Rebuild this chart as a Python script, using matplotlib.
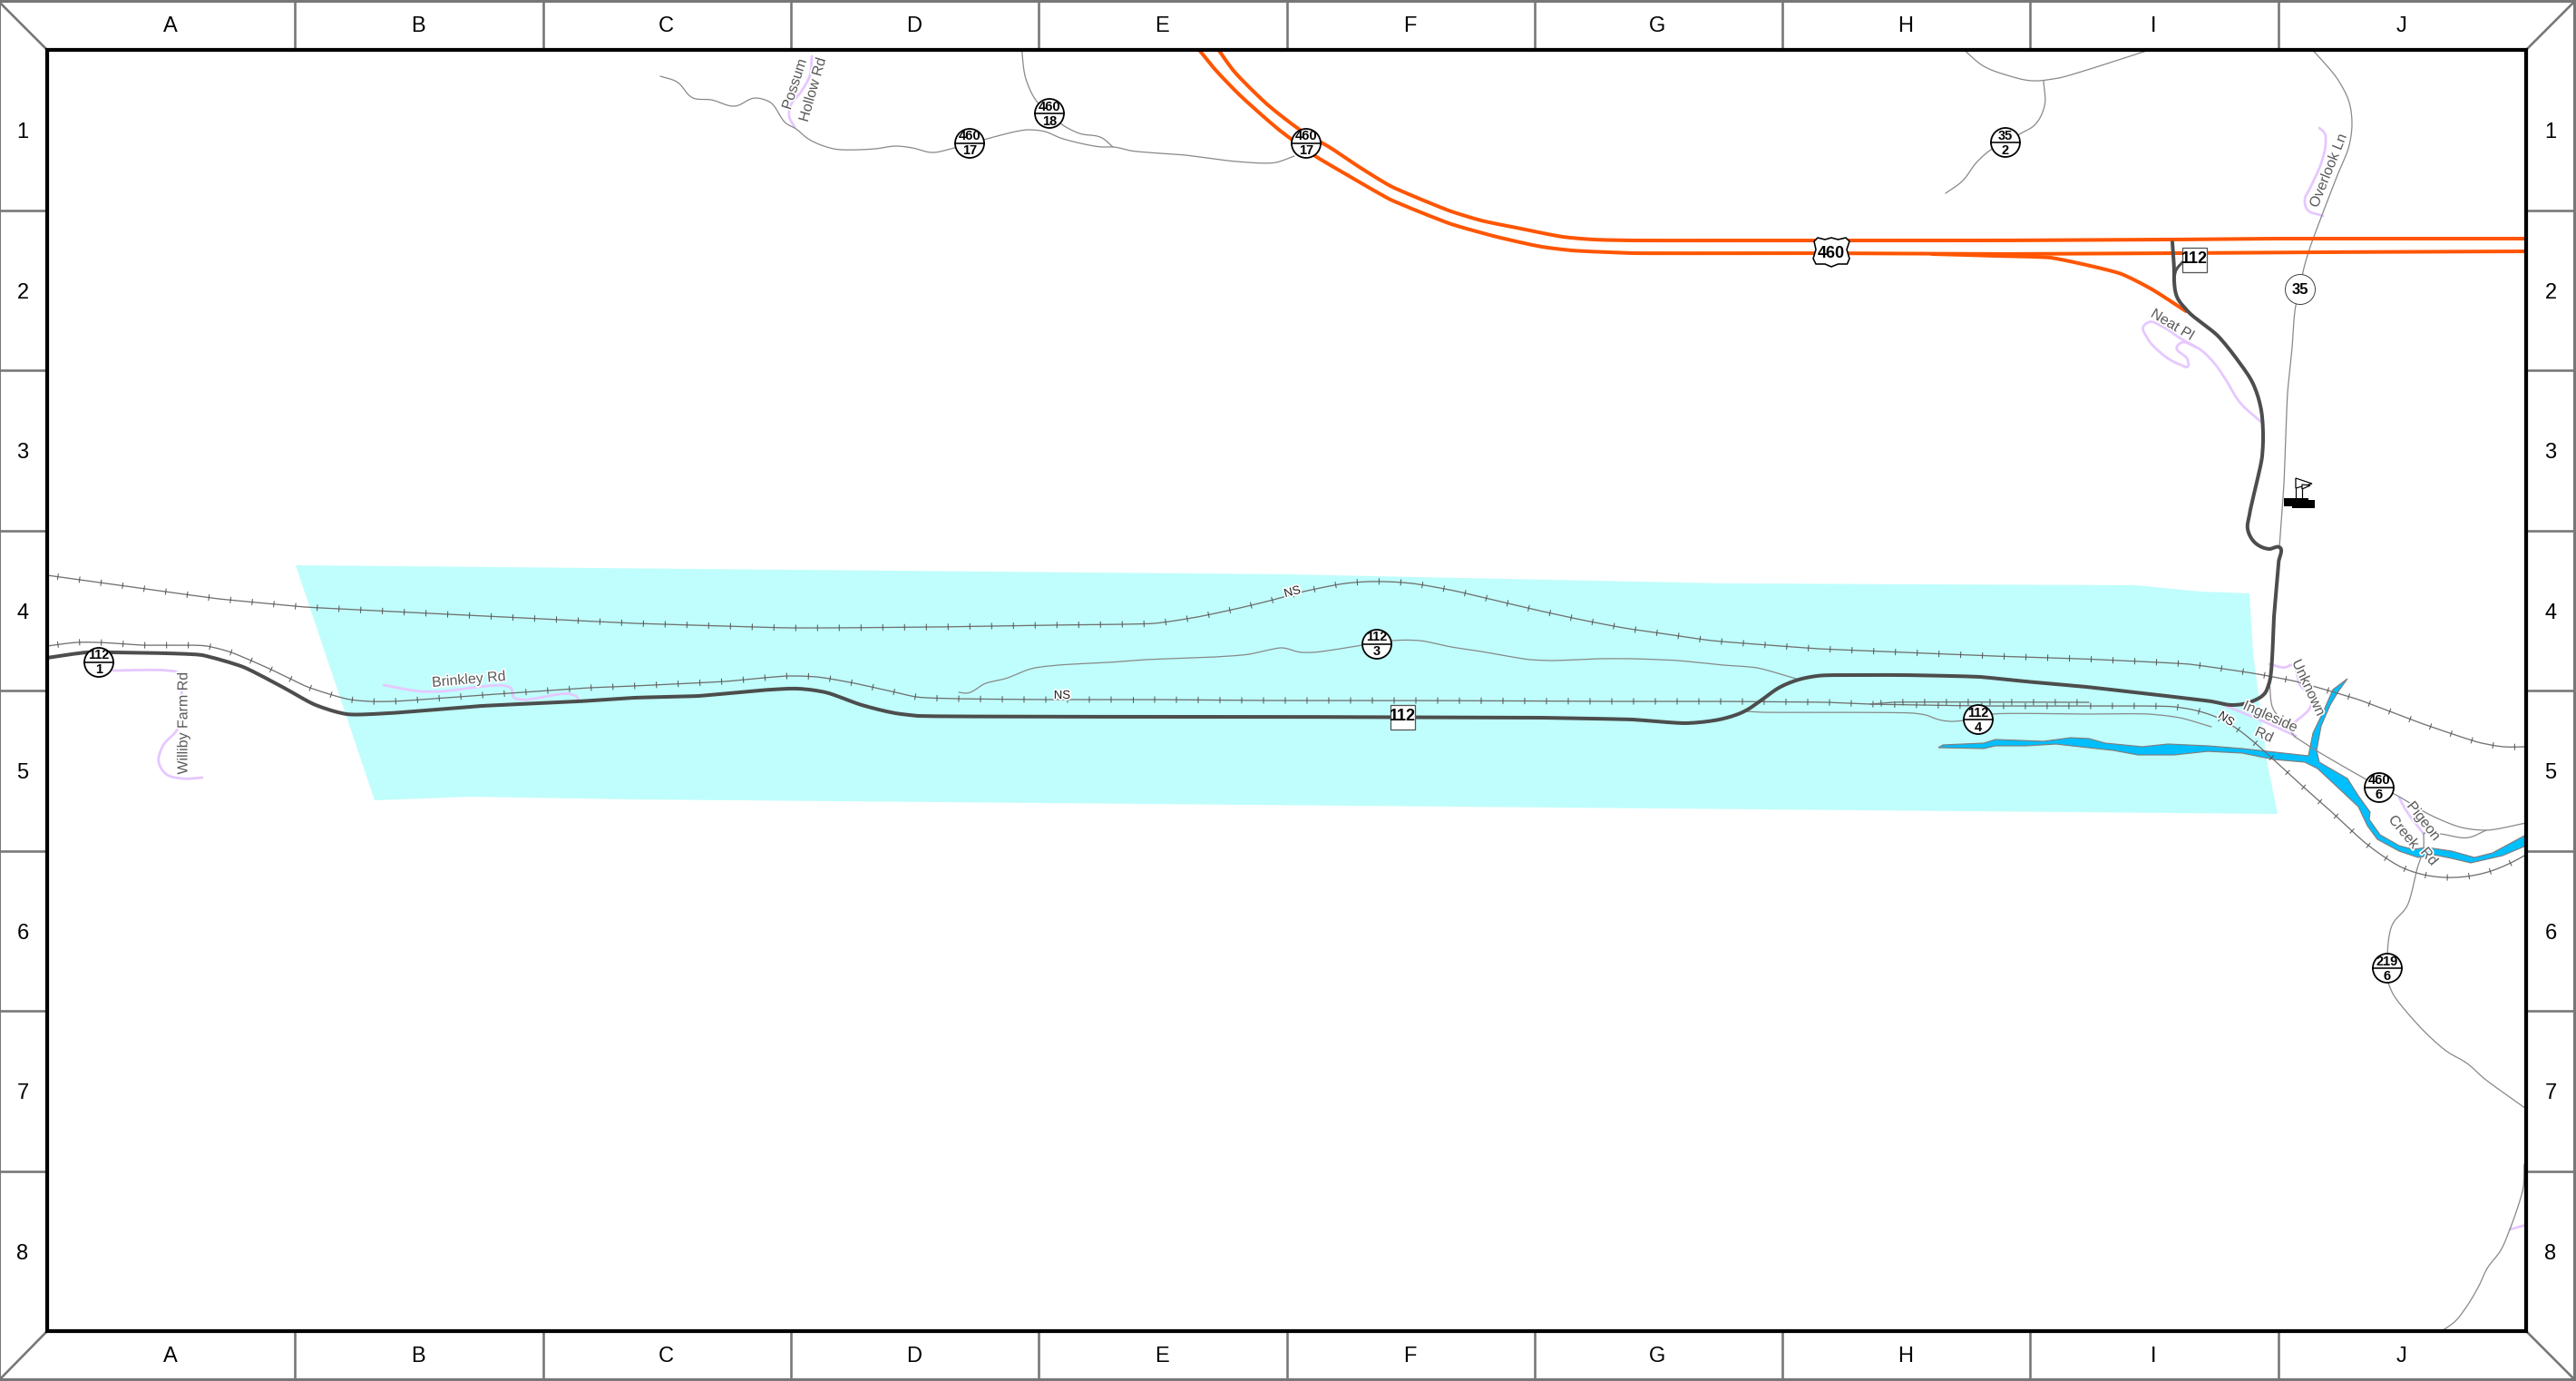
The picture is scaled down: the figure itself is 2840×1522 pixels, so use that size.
import numpy as np
import matplotlib
matplotlib.use("Agg")
import matplotlib.pyplot as plt
from matplotlib.patches import Circle, Polygon, Rectangle
import matplotlib.patheffects as pe

plt.rcParams['font.family'] = ['Liberation Sans', 'DejaVu Sans']

W, H = 2840, 1522
COLS = list("ABCDEFGHIJ")
ROWS = list("12345678")

STUDY_AREA = [(326,623),(1420,633),(1900,643),(2355,645),(2427,652),(2480,654),(2484,720),(2500,843),(2511,897),
              (700,881),(518,878),(413,882)]

WATER = [(2137,824),(2142,821),(2187,819),(2200,815),(2253,817),(2283,813),(2303,814),(2321,819),(2362,823),(2390,820),
         (2434,822),(2472,825),(2545,833),(2550,808),(2562,783),(2572,760),(2588,748),(2578,762),(2569,777),(2559,800),
         (2554,827),(2557,840),(2588,858),(2600,877),(2613,895),(2612,903),(2624,920),(2645,932),(2660,936),(2676,934),
         (2703,938),(2728,945),(2748,940),(2785,920),(2785,932),(2759,943),(2724,951),(2703,946),(2683,942),(2666,945),
         (2645,938),(2621,925),(2610,910),(2600,889),(2555,847),(2541,840),(2507,837),(2472,830),(2434,828),(2397,832),
         (2357,832),(2330,827),(2293,823),(2267,820),(2233,822),(2200,822),(2187,825),(2140,824)]

RAIL_UPPER = [(52,634),(241,660),(336,669),(700,687),(869,692),(913,692),(1033,691),(1153,689),(1240,688),(1273,687),
              (1320,680),(1367,670),(1400,662),(1437,652),(1483,643),(1508,641),(1527,641),(1557,643),(1603,651),
              (1650,662),(1697,673),(1743,683),(1790,692),(1838,699),(1887,706),(1910,708),(2005,715),(2100,719),
              (2197,723),(2293,726),(2414,732),(2484,742),(2531,751),(2600,771),(2669,797),(2736,819),(2760,823),(2785,823)]

RAIL_LOWER = [(52,712),(85,708),(109,708),(156,711),(228,712),(252,718),(297,737),(339,757),(386,771),(408,773),
              (433,773),(504,768),(576,763),(650,758),(699,756),(800,751),(869,745),(900,746),(937,752),(983,762),
              (1010,768),(1053,770),(1150,771),(1270,771),(1390,772),(1558,772),(1773,773),(1893,773),(2013,774),
              (2062,776),(2183,778),(2302,778),(2398,779),(2421,783),(2445,791),(2466,803),(2484,817),(2502,833),
              (2538,866),(2574,898),(2591,914),(2609,930),(2628,944),(2648,956),(2672,964),(2695,967),(2719,966),
              (2743,961),(2766,952),(2785,942)]

RAIL_SIDING = [(2062,776),(2087,774),(2303,774)]

ROUTE_112 = [(52,725),(96,719),(125,719),(223,722),(268,735),(313,758),(348,777),(382,787),(429,786),(531,778),(638,773),
             (699,769),(770,767),(850,760),(880,759),(910,763),(950,777),(987,786),(1012,789),(1400,790),(1700,791),
             (1800,793),(1860,797),(1883,795),(1900,792),(1925,783),(1940,773),(1963,757),(1983,749),(2003,745),
             (2040,744),(2100,744),(2183,746),(2233,751),(2300,757),(2438,773),(2462,777),(2483,773),(2497,764),
             (2502,752),(2507,680),(2512,620),(2513,603),(2502,605),(2486,598),(2478,583),(2480,567),(2494,503),
             (2495,477),(2492,447),(2484,423),(2467,397),(2445,370),(2412,343),(2400,327),(2397,310),(2397,300),(2395,267)]
ROUTE_112_RAMP = [(2397,306),(2399,298),(2408,287)]

US460_NORTH = [(1340,50),(1360,78),(1397,115),(1433,143),(1467,163),(1500,185),(1533,205),(1600,233),(1633,243),(1677,252),
               (1723,261),(1757,264),(1800,265),(2000,265),(2200,265),(2396,264),(2502,263),(2620,263),(2785,263)]
US460_SOUTH = [(1318,50),(1340,77),(1367,105),(1410,143),(1450,172),(1477,188),(1533,220),(1600,247),(1650,261),(1700,272),
               (1733,276),(1800,279),(2000,279),(2200,280),(2404,279),(2547,278),(2785,277)]
US460_BRANCH = [(2130,280),(2167,281),(2200,282),(2261,284),(2339,302),(2371,318),(2410,343)]

ROAD_460_17 = [(728,84),(746,90),(764,108),(784,110),(810,117),(833,108),(848,112),(868,137),(876,141),(891,153),(919,164),
               (965,164),(988,161),(1006,163),(1027,168),(1052,163),(1088,153),(1134,143),(1152,145),(1169,152),(1215,162),
               (1228,162),(1246,166),(1307,171),(1363,178),(1407,179),(1427,172)]
ROAD_460_18 = [(1126,50),(1131,87),(1144,113),(1157,125),(1172,138),(1190,147),(1215,152),(1227,162)]
ROAD_35_2_A = [(2160,50),(2187,73),(2213,83),(2240,89),(2270,86),(2385,50)]
ROAD_35_2_B = [(2253,89),(2254,117),(2243,138),(2228,147),(2211,157),(2195,165),(2180,178),(2163,200),(2145,213)]
ROAD_35 = [(2545,50),(2577,87),(2590,113),(2593,137),(2590,160),(2577,193),(2560,237),(2545,278),(2539,300),(2536,319),
           (2531,337),(2527,383),(2522,433),(2518,533),(2513,603)]
ROAD_112_3 = [(1057,763),(1065,764),(1087,753),(1108,748),(1137,737),(1167,733),(1223,730),(1263,727),(1340,724),(1377,721),
              (1400,716),(1412,714),(1435,719),(1447,719),(1502,711),(1535,706),(1565,706),(1600,713),(1633,718),(1687,727),
              (1710,728),(1763,726),(1800,726),(1850,728),(1900,733),(1937,736),(1980,748)]
ROAD_112_4 = [(1925,784),(1943,785),(2110,786),(2123,788),(2137,793),(2150,795),(2165,794),(2197,787),(2300,787),(2369,787),
              (2403,791),(2438,801)]
ROAD_JUNCTION = [(2502,752),(2507,783),(2515,793),(2530,812)]
ROAD_460_6 = [(2530,812),(2555,828),(2607,858),(2645,878),(2679,898),(2714,912),(2741,915),(2785,907)]
ROAD_460_6_B = [(2672,918),(2690,919),(2722,923),(2741,915)]
ROAD_219_6 = [(2672,919),(2672,933),(2665,957),(2653,1000),(2638,1018),(2632,1052),(2633,1083),(2638,1095),(2673,1137),
              (2698,1159),(2720,1172),(2738,1188),(2785,1222)]
ROAD_SE = [(2783,1283),(2782,1308),(2767,1355),(2757,1378),(2742,1398),(2733,1417),(2718,1442),(2707,1456),(2692,1467)]

LOCAL_POSSUM = [(895,62),(893,83),(884,100),(871,118),(870,128),(876,140)]
LOCAL_WILLIBY = [(125,739),(185,739),(196,741),(200,770),(196,803),(179,823),(175,840),(183,853),(201,858),(223,857)]
LOCAL_BRINKLEY = [(423,755),(464,762),(487,762),(558,756),(563,758),(567,769),(574,771),(629,765),(636,768),(638,773)]
LOCAL_NEAT = [(2495,467),(2469,443),(2453,417),(2441,400),(2420,382),(2404,378),(2400,382),(2412,397),(2412,404),(2404,402),
              (2380,387),(2367,372),(2363,360),(2369,355),(2384,360),(2404,373),(2420,382)]
LOCAL_OVERLOOK = [(2557,141),(2563,147),(2564,157),(2560,177),(2547,207),(2541,220),(2543,230),(2561,238)]
LOCAL_INGLESIDE = [(2452,777),(2476,787),(2493,794),(2531,811)]
LOCAL_UNKNOWN = [(2502,732),(2521,735),(2525,733),(2538,758),(2549,765),(2548,777),(2529,797)]
LOCAL_PIGEON = [(2645,879),(2652,892),(2672,919)]
LOCAL_SE = [(2767,1355),(2785,1350)]

CIRCLE_SHIELDS = [("112","1",109,730),("460","17",1069,158),("460","18",1157,125),("460","17",1440,158),("35","2",2211,157),
                  ("112","3",1518,710),("112","4",2181,793),("460","6",2623,868),("219","6",2632,1067)]
SQUARE_SHIELDS = [("112",2419,286),("112",1546,790)]
STATE_SHIELD = ("35",2536,319)
US_SHIELD = ("460",2019,278)
US_SHIELD_OUTLINE = [(-19,-12),(-15,-16),(-7,-14),(0,-16),(7.5,-14),(16,-16),(20,-12),(17,-3),(20,7),(17.5,13),(7.5,13),
                     (0,16),(-7,13),(-17,13),(-20,7),(-17,-3)]

ROAD_LABELS = [("Possum",876,93,72),("Hollow Rd",896,99,74),("Williby Farm Rd",202,797,90),("Brinkley Rd",517,749,5),
               ("Neat Pl",2395,358,-31),("Overlook Ln",2567,188,68),("Unknown",2545,758,-65),("Ingleside",2503,790,-24),
               ("Rd",2496,810,-24),("Pigeon",2672,905,-52),("Creek",2650,917,-50),("Rd",2678,944,-50)]
RAIL_LABELS = [("NS",1425,653,15),("NS",1171,767,0),("NS",2454,793,-35)]

FLAG_BASES = [(2518,549,27,9),(2527,551,25,9)]
FLAG_POLES = [(2531,527,549),(2538,533,549)]
FLAG_PENNANTS = [[(2531,527),(2549,533),(2531,538)],[(2538,534),(2547,535),(2538,539)]]

FRAME_L, FRAME_R, FRAME_T, FRAME_B = 52, 2785, 55, 1467

def px(n):
    return n * 0.72

fig = plt.figure(figsize=(W / 100, H / 100), dpi=100, facecolor='white')
ax = fig.add_axes([0, 0, 1, 1])
ax.set_xlim(0, W)
ax.set_ylim(H, 0)
ax.axis('off')

clip = Rectangle((FRAME_L, FRAME_T), FRAME_R - FRAME_L, FRAME_B - FRAME_T, transform=ax.transData)

def rounded(pts, n=8, reach=30.0):
    """Round the corners of a digitised road; long straight runs stay straight."""
    a = np.array(pts, float)
    if len(a) < 3:
        return a
    t = np.r_[0, np.cumsum(np.hypot(*np.diff(a, axis=0).T))]
    m = np.gradient(a, t, axis=0)
    m /= np.maximum(np.hypot(m[:, 0], m[:, 1]), 1e-9)[:, None]
    out = []
    for i in range(len(a) - 1):
        h = min(t[i + 1] - t[i], reach)
        u = np.linspace(0, 1, n, endpoint=False)[:, None]
        out.append((2*u**3 - 3*u**2 + 1) * a[i] + (u**3 - 2*u**2 + u) * h * m[i]
                   + (-2*u**3 + 3*u**2) * a[i + 1] + (u**3 - u**2) * h * m[i + 1])
    out.append(a[-1:])
    return np.vstack(out)

def line(pts, color, width, z, smooth=True):
    a = rounded(pts) if smooth else np.array(pts, float)
    l, = ax.plot(a[:, 0], a[:, 1], color=color, lw=px(width), zorder=z, solid_joinstyle='round', solid_capstyle='round')
    l.set_clip_path(clip)
    return l

def rail(pts, spacing=24.0, half=3.2):
    line(pts, '#707070', 1.3, 4)
    a = rounded(pts)
    seg = np.hypot(*np.diff(a, axis=0).T)
    keep = np.r_[True, seg > 1e-6]
    a = a[keep]
    seg = np.hypot(*np.diff(a, axis=0).T)
    s = np.r_[0, np.cumsum(seg)]
    at = np.arange(spacing / 2, s[-1], spacing)
    xs = np.interp(at, s, a[:, 0])
    ys = np.interp(at, s, a[:, 1])
    idx = np.clip(np.searchsorted(s, at) - 1, 0, len(seg) - 1)
    d = np.diff(a, axis=0)[idx] / seg[idx][:, None]
    for x, y, (dx, dy) in zip(xs, ys, d):
        line([(x - dy * half, y + dx * half), (x + dy * half, y - dx * half)], '#555555', 1.0, 4, smooth=False)

# study area and water
p = Polygon(STUDY_AREA, closed=True, facecolor='#bffefc', edgecolor='none', zorder=1)
ax.add_patch(p)
p = Polygon(WATER, closed=True, facecolor='#00bfff', edgecolor='#7f7f7f', lw=px(1.2), zorder=2)
ax.add_patch(p)
p.set_clip_path(clip)

# local roads
for pts in (LOCAL_POSSUM, LOCAL_WILLIBY, LOCAL_BRINKLEY, LOCAL_NEAT, LOCAL_OVERLOOK,
            LOCAL_INGLESIDE, LOCAL_UNKNOWN, LOCAL_PIGEON, LOCAL_SE):
    line(pts, '#e6c8ff', 2.8, 3)

# thin roads
for pts in (ROAD_460_17, ROAD_460_18, ROAD_35_2_A, ROAD_35_2_B, ROAD_35, ROAD_112_3, ROAD_112_4,
            ROAD_JUNCTION, ROAD_460_6, ROAD_460_6_B, ROAD_219_6, ROAD_SE):
    line(pts, '#888888', 1.25, 3.5)

# rails
rail(RAIL_UPPER)
rail(RAIL_LOWER)
rail(RAIL_SIDING)

# highways
for pts in (US460_NORTH, US460_SOUTH, US460_BRANCH):
    line(pts, '#ff5500', 4, 5)
line(ROUTE_112, '#4d4d4d', 4, 6)
line(ROUTE_112_RAMP, '#4d4d4d', 3, 6)

# road labels
halo = [pe.withStroke(linewidth=2.5, foreground='white')]
for txt, x, y, r in ROAD_LABELS:
    ax.text(x, y, txt, fontsize=11.5, color='#5a5a5a', rotation=r, rotation_mode='anchor', ha='center', va='center',
            zorder=8, path_effects=halo)
for txt, x, y, r in RAIL_LABELS:
    ax.text(x, y, txt, fontsize=9.5, color='#222222', rotation=r, rotation_mode='anchor', ha='center', va='center',
            zorder=8, path_effects=halo)

# shields
for top, bot, x, y in CIRCLE_SHIELDS:
    ax.add_patch(Circle((x, y), 16, facecolor='white', edgecolor='black', lw=px(1.8), zorder=9))
    ax.plot([x - 16, x + 16], [y, y], color='black', lw=px(1.6), zorder=10)
    ax.text(x, y - 7.5, top, fontsize=10.5, fontweight='bold', ha='center', va='center', zorder=11)
    ax.text(x, y + 8.5, bot, fontsize=10.5, fontweight='bold', ha='center', va='center', zorder=11)
for txt, x, y in SQUARE_SHIELDS:
    ax.add_patch(Rectangle((x - 13.5, y - 13.5), 27, 27, facecolor='white', edgecolor='#555555', lw=px(1.3), zorder=9))
    ax.text(x, y, txt, fontsize=13, fontweight='bold', ha='center', va='center', zorder=11)
ax.add_patch(Circle(STATE_SHIELD[1:], 16.5, facecolor='white', edgecolor='#333333', lw=px(0.9), zorder=9))
ax.text(*STATE_SHIELD[1:], STATE_SHIELD[0], fontsize=12, fontweight='bold', ha='center', va='center', zorder=11)
sx, sy = US_SHIELD[1:]
ax.add_patch(Polygon([(sx + a, sy + b) for a, b in US_SHIELD_OUTLINE], closed=True, facecolor='white', edgecolor='black',
                     lw=px(1.6), joinstyle='round', zorder=9))
ax.text(sx, sy + 1, US_SHIELD[0], fontsize=13, fontweight='bold', ha='center', va='center', zorder=11)

# flag symbol
for x, y, w, h in FLAG_BASES:
    ax.add_patch(Rectangle((x, y), w, h, facecolor='black', edgecolor='none', zorder=7))
for x, y0, y1 in FLAG_POLES:
    ax.plot([x, x], [y0, y1], color='black', lw=px(1.2), zorder=7)
for tri in FLAG_PENNANTS:
    ax.add_patch(Polygon(tri, closed=True, facecolor='white', edgecolor='black', lw=px(1.2), zorder=7))

# frame
GRAY = '#777777'
col_x = np.linspace(FRAME_L, FRAME_R, len(COLS) + 1)
row_y = np.linspace(FRAME_T, FRAME_B, len(ROWS) + 1)
ax.add_patch(Rectangle((-1, 1), W - 1, H - 3, facecolor='none', edgecolor=GRAY, lw=px(3), zorder=20, clip_on=False))
for x in col_x[1:-1]:
    ax.plot([x, x], [0, FRAME_T], color=GRAY, lw=px(2.6), zorder=20)
    ax.plot([x, x], [FRAME_B, H], color=GRAY, lw=px(2.6), zorder=20)
for y in row_y[1:-1]:
    ax.plot([0, FRAME_L], [y, y], color=GRAY, lw=px(2.6), zorder=20)
    ax.plot([FRAME_R, W], [y, y], color=GRAY, lw=px(2.6), zorder=20)
for (x0, y0), (x1, y1) in (((0, 3), (FRAME_L, FRAME_T)), ((W - 2, 2), (FRAME_R, FRAME_T)),
                           ((0, H - 2), (FRAME_L, FRAME_B)), ((W - 2, H - 2), (FRAME_R, FRAME_B))):
    ax.plot([x0, x1], [y0, y1], color=GRAY, lw=px(2.6), zorder=20)
ax.add_patch(Rectangle((FRAME_L, FRAME_T), FRAME_R - FRAME_L, FRAME_B - FRAME_T, facecolor='none',
                       edgecolor='black', lw=px(4.2), zorder=21))
for i, c in enumerate(COLS):
    xc = (col_x[i] + col_x[i + 1]) / 2 - 1
    for y in (29, 1495):
        ax.text(xc, y, c, fontsize=17, color='black', ha='center', va='center', zorder=22)
for i, r in enumerate(ROWS):
    yc = (row_y[i] + row_y[i + 1]) / 2 + 3
    for x in (25, 2812):
        ax.text(x, yc, r, fontsize=17, color='black', ha='center', va='center', zorder=22)

fig.savefig('out.png', dpi=100, facecolor='white')
